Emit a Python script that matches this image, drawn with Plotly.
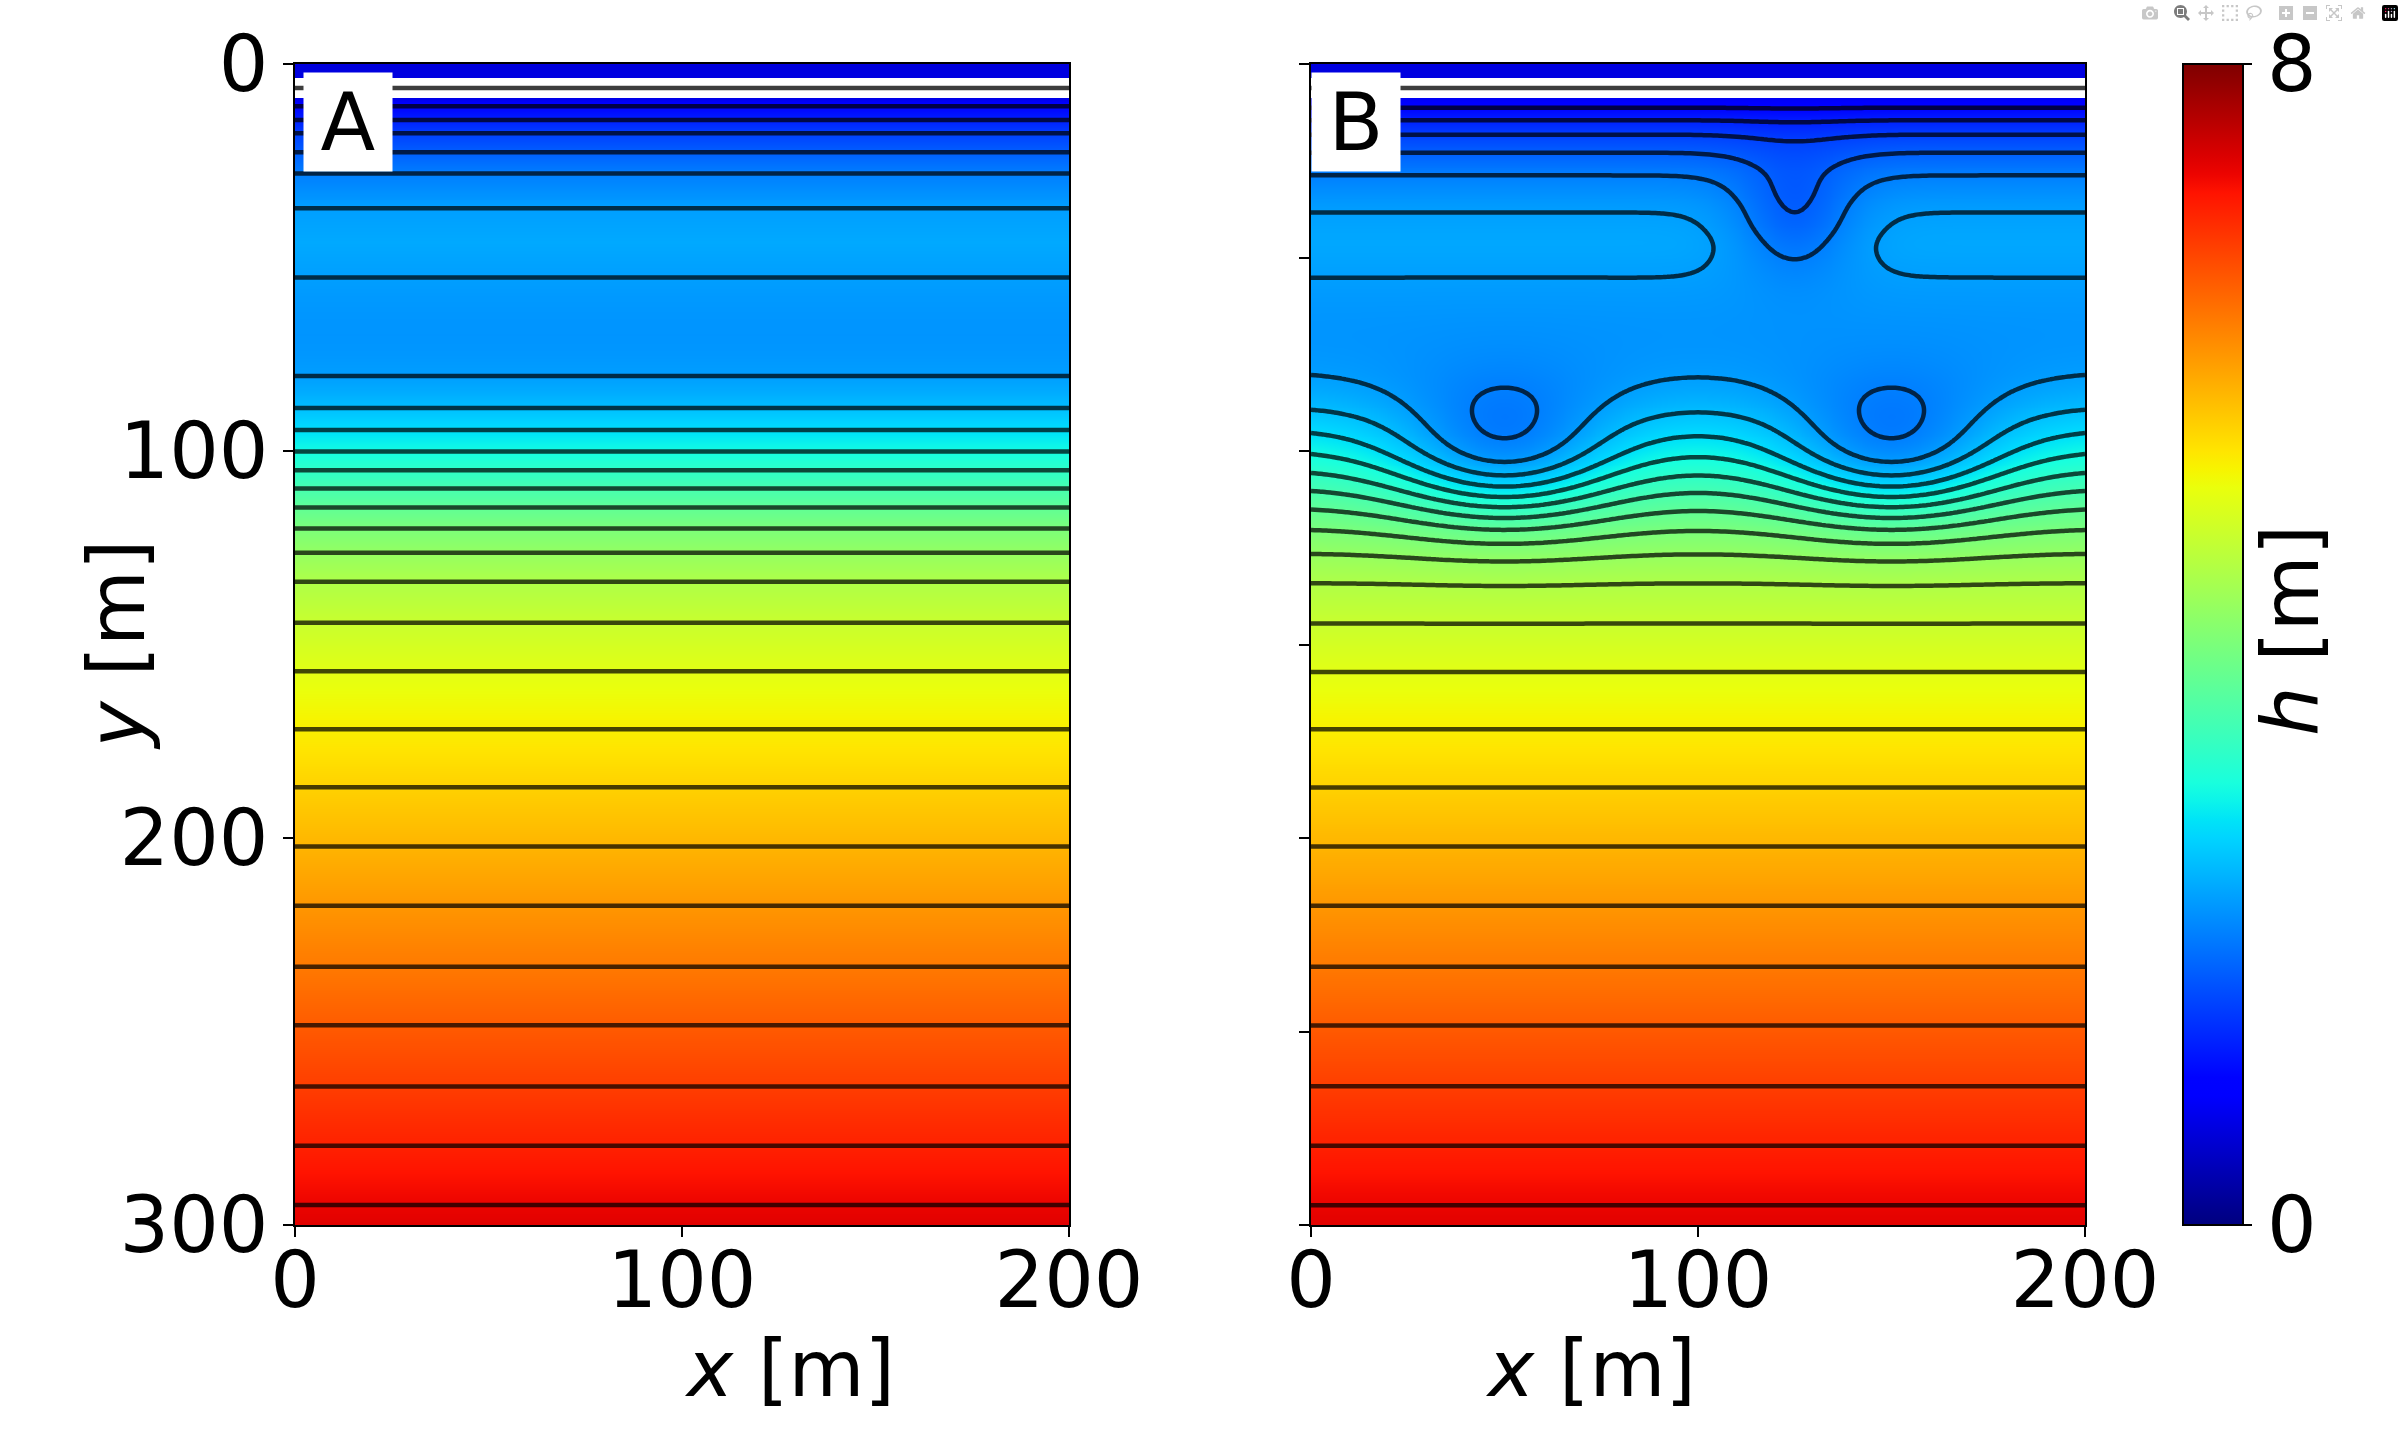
import numpy as np
import plotly.graph_objects as go

# head profile h(y) (contour crossings + band colours)
Y_PROFILE = [0, 3.6, 8.8, 10.9, 14.5, 17.9, 22.8, 28.3, 37.3, 46.0, 55.2, 60.0, 65.0, 70.0,
             75.0, 80.6, 85.0, 88.9, 94.6, 100.1, 105.0, 109.7, 114.6, 120.0, 126.3, 133.8,
             144.4, 156.9, 171.9, 186.9, 202.2, 217.5, 233.3, 248.4, 264.2, 279.5, 294.8, 300]
H_PROFILE = [0.65, 0.68, 0.72, 1.0, 1.25, 1.5, 1.75, 2.0, 2.25, 2.33, 2.25, 2.21, 2.18, 2.17,
             2.19, 2.25, 2.36, 2.5, 2.75, 3.0, 3.25, 3.5, 3.75, 4.0, 4.25, 4.5,
             4.75, 5.0, 5.25, 5.5, 5.75, 6.0, 6.25, 6.5, 6.75, 7.0, 7.25, 7.33]

# masked strip near the top boundary (white in both panels)
BAND_Y = [3.6, 8.8]
BAND_LINE_Y = 6.2

# depressions in panel B (centre, drawdown, widths)
WELL_X = [50, 150, 125]
WELL_Y = [101, 101, 39]
WELL_DRAW = [0.9, 0.9, 0.5]
WELL_SX = [20, 20, 11]
WELL_SY_UP = [12.3, 12.3, 10.6]
WELL_SY_DOWN = [12.3, 12.3, 11]

LEVELS = dict(start=1.0, end=7.25, size=0.25)
X_TICKS = [0, 100, 200]
Y_TICKS_A = [0, 100, 200, 300]
Y_TICKS_B = [0, 50, 100, 150, 200, 250, 300]
CB_RANGE = [0, 8]

W, H = 2404, 1443
FONT = "DejaVu Sans"
FS = 78
LINE = "rgba(0,0,0,0.72)"


def jet_scale(n=64):
    v = np.linspace(0, 1, n)
    r = np.interp(v, [0, 0.35, 0.66, 0.89, 1], [0, 0, 1, 1, 0.5])
    g = np.interp(v, [0, 0.125, 0.375, 0.64, 0.91, 1], [0, 0, 1, 1, 0, 0])
    b = np.interp(v, [0, 0.11, 0.34, 0.65, 1], [0.5, 1, 1, 0, 0])
    return [[float(t), f"rgb({int(rr*255)},{int(gg*255)},{int(bb*255)})"]
            for t, rr, gg, bb in zip(v, r, g, b)]


JET = jet_scale()

# panel A: uniform in x
za = [[h, h] for h in H_PROFILE]

# panel B: (lightly smoothed) profile minus drawdown
xb = np.linspace(0, 200, 201)
yb = np.linspace(0, 300, 601)
XX, YY = np.meshgrid(xb, yb)
base = np.interp(yb, Y_PROFILE, H_PROFILE)
k = np.exp(-0.5 * (np.arange(-12, 13) / 5.0) ** 2)
k /= k.sum()
base = np.convolve(np.pad(base, 12, mode="edge"), k, mode="valid")
zb = base[:, None] * np.ones_like(XX)
for wx, wy, a, sx, su, sd in zip(WELL_X, WELL_Y, WELL_DRAW, WELL_SX, WELL_SY_UP, WELL_SY_DOWN):
    sy = np.where(YY < wy, su, sd)
    zb = zb - a * np.exp(-((XX - wx) ** 2) / (2 * sx ** 2) - ((YY - wy) ** 2) / (2 * sy ** 2))

fig = go.Figure()

common = dict(colorscale=JET, zmin=0, zmax=8, autocontour=False, showscale=False,
              contours=dict(coloring="heatmap", showlines=True, **LEVELS),
              line=dict(color=LINE, width=4.5, smoothing=1), hoverinfo="skip")

fig.add_trace(go.Contour(x=[0, 200], y=Y_PROFILE, z=za, xaxis="x", yaxis="y", **common))
fig.add_trace(go.Contour(x=xb, y=yb, z=zb, xaxis="x2", yaxis="y2", **common))

for xa, ya in [("x", "y"), ("x2", "y2")]:
    fig.add_trace(go.Scatter(x=[0, 200, 200, 0, 0],
                             y=[BAND_Y[0], BAND_Y[0], BAND_Y[1], BAND_Y[1], BAND_Y[0]],
                             fill="toself", fillcolor="white", mode="none",
                             xaxis=xa, yaxis=ya, showlegend=False, hoverinfo="skip"))
    fig.add_trace(go.Scatter(x=[0, 200], y=[BAND_LINE_Y, BAND_LINE_Y], mode="lines",
                             line=dict(color="rgba(40,40,40,0.9)", width=4.5),
                             xaxis=xa, yaxis=ya, showlegend=False, hoverinfo="skip"))

# smooth colorbar carried by an empty marker trace
fig.add_trace(go.Scatter(
    x=[None, None], y=[None, None], mode="markers", xaxis="x", yaxis="y",
    showlegend=False, hoverinfo="skip",
    marker=dict(color=CB_RANGE, colorscale=JET, cmin=CB_RANGE[0], cmax=CB_RANGE[1],
                showscale=True,
                colorbar=dict(x=2183 / W, xanchor="left", xpad=0, ypad=0,
                              y=(H - 644.5) / H, yanchor="middle",
                              len=1161 / H, lenmode="fraction", thickness=60,
                              outlinewidth=2, outlinecolor="black",
                              ticks="outside", ticklen=8, tickwidth=2, tickcolor="black",
                              tickvals=CB_RANGE,
                              tickfont=dict(family=FONT, size=FS, color="black")))))

ax = dict(showline=True, mirror=True, linecolor="black", linewidth=2, ticks="outside",
          ticklen=10, tickwidth=2, tickcolor="black", showgrid=False, zeroline=False,
          tickfont=dict(family=FONT, size=FS, color="black"))
yd = [(H - 1225) / H, (H - 64) / H]
fig.update_layout(
    width=W, height=H, margin=dict(l=0, r=0, t=0, b=0, autoexpand=False), autosize=False,
    paper_bgcolor="white", plot_bgcolor="white", showlegend=False,
    xaxis=dict(domain=[295 / W, 1069 / W], range=[0, 200], tickvals=X_TICKS,
               ticklabelstandoff=-24, **ax),
    yaxis=dict(domain=yd, range=[300, 0], tickvals=Y_TICKS_A, ticklabelstandoff=-1, **ax),
    xaxis2=dict(domain=[1311 / W, 2085 / W], range=[0, 200], tickvals=X_TICKS, anchor="y2",
                ticklabelstandoff=-24, **ax),
    yaxis2=dict(domain=yd, range=[300, 0], tickvals=Y_TICKS_B, showticklabels=False,
                anchor="x2", **ax),
)

tf = dict(family=FONT, size=FS, color="black")
fig.add_annotation(text="<i>x</i> [m]", x=(295 + 1069) / 2 / W, y=(H - 1369) / H,
                   xref="paper", yref="paper", showarrow=False, font=tf, yanchor="middle")
fig.add_annotation(text="<i>x</i> [m]", x=(1311 + 2085) / 2 / W, y=(H - 1369) / H,
                   xref="paper", yref="paper", showarrow=False, font=tf, yanchor="middle")
fig.add_annotation(text="<i>y</i> [m]", x=69 / W, y=(H - 644.5) / H, textangle=-90,
                   xref="paper", yref="paper", showarrow=False, font=tf)
fig.add_annotation(text="<i>h</i> [m]", x=2338 / W, y=(H - 631) / H, textangle=-90,
                   xref="paper", yref="paper", showarrow=False, font=tf)

for lab, xa, ya, x0 in [("A", "x", "y", 8 / 774), ("B", "x2", "y2", 0.0)]:
    fig.add_annotation(text=lab, x=x0, y=1 - 8 / 1161, xref=xa + " domain", yref=ya + " domain",
                       xanchor="left", yanchor="top", showarrow=False,
                       font=dict(family=FONT, size=80, color="black"),
                       bgcolor="white", width=88, height=98, align="center", valign="middle",
                       borderpad=0)

fig.write_html("out.html", post_script="document.body.style.margin='0';")
